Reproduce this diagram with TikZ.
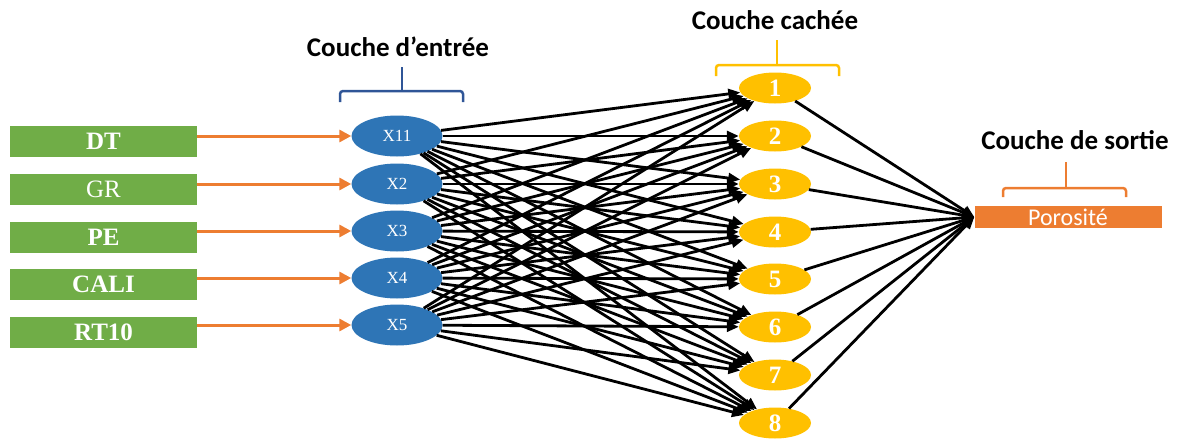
\documentclass[tikz,border=0pt]{standalone}
\usepackage{fontspec}
\setmainfont{Liberation Serif}
\newfontfamily\calfont{Carlito}
\usetikzlibrary{arrows.meta,shapes.geometric}
\definecolor{cgreen}{HTML}{70AD47}
\definecolor{cblue}{HTML}{2E75B6}
\definecolor{cyellow}{HTML}{FFC000}
\definecolor{corange}{HTML}{ED7D31}
\definecolor{cdblue}{HTML}{2F5597}
\begin{document}
\begin{tikzpicture}[x=1pt,y=-1pt,
  inbox/.style={rectangle,fill=cgreen,minimum width=187pt,minimum height=31pt,inner sep=0pt,text=white,font=\fontsize{25}{27}\selectfont\bfseries},
  inell/.style={ellipse,fill=cblue,minimum width=91pt,minimum height=41pt,inner sep=0pt,text=white,font=\fontsize{17}{19}\selectfont},
  hidell/.style={ellipse,fill=cyellow,minimum width=72pt,minimum height=31pt,inner sep=0pt,text=white,font=\fontsize{25}{27}\selectfont\bfseries},
  outbox/.style={rectangle,fill=corange,minimum width=187pt,minimum height=22pt,inner sep=0pt,text=white,font=\calfont\fontsize{24}{24}\selectfont},
  title/.style={font=\calfont\bfseries\fontsize{27}{29}\selectfont,inner sep=0pt},
  orarrow/.style={draw=corange,line width=3pt,-{Triangle[length=12pt,width=12pt]}},
  conn/.style={draw=black,line width=2.8pt,-{Triangle[length=12pt,width=10pt]}},
  bracket/.style={line width=2.5pt,rounded corners=3pt}
]
\useasboundingbox (0,0) rectangle (1184,439);
% input boxes
\node[inbox] (dt) at (103.5,141) {DT};
\node[inbox,font=\fontsize{25}{27}\selectfont] (gr) at (103.5,189) {GR};
\node[inbox] (pe) at (103.5,237) {PE};
\node[inbox] (cali) at (103.5,284) {CALI};
\node[inbox] (rt) at (103.5,332) {RT10};
% input ellipses
\node[inell] (in1) at (397,136) {X11};
\node[inell] (in2) at (397,184) {X2};
\node[inell] (in3) at (397,231) {X3};
\node[inell] (in4) at (397,278) {X4};
\node[inell] (in5) at (397,325) {X5};
% hidden
\foreach \j/\y in {1/88,2/136,3/184,4/232,5/279,6/327,7/375,8/423}
  \node[hidell] (h\j) at (775,\y) {\j};
% output
\node[outbox] (out) at (1068,217) {Porosité};
% orange arrows
\draw[orarrow] (dt.east |- in1) -- (in1.west);
\draw[orarrow] (gr.east |- in2) -- (in2.west);
\draw[orarrow] (pe.east |- in3) -- (in3.west);
\draw[orarrow] (cali.east |- in4) -- (in4.west);
\draw[orarrow] (rt.east |- in5) -- (in5.west);
% connections
\foreach \i in {1,...,5}
  \foreach \j in {1,...,8}
    \draw[conn] (in\i) -- (h\j);
\foreach \j in {1,...,8}
  \draw[conn] (h\j) -- (out.west);
% titles
\node[title] (t1) at (398,47) {Couche d’entrée};
\node[title] (t2) at (775,20) {Couche cachée};
\node[title] (t3) at (1075,140) {Couche de sortie};
% brackets
\draw[bracket,cdblue] (340,102) -- (340,91) -- (463,91) -- (463,102);
\draw[cdblue,line width=2.5pt] (402,67) -- (402,91);
\draw[bracket,cyellow] (716,76) -- (716,65) -- (839,65) -- (839,76);
\draw[cyellow,line width=2.5pt] (777,40) -- (777,65);
\draw[bracket,corange] (1003,197) -- (1003,188) -- (1126,188) -- (1126,197);
\draw[corange,line width=2.5pt] (1066,162) -- (1066,188);
\end{tikzpicture}
\end{document}
